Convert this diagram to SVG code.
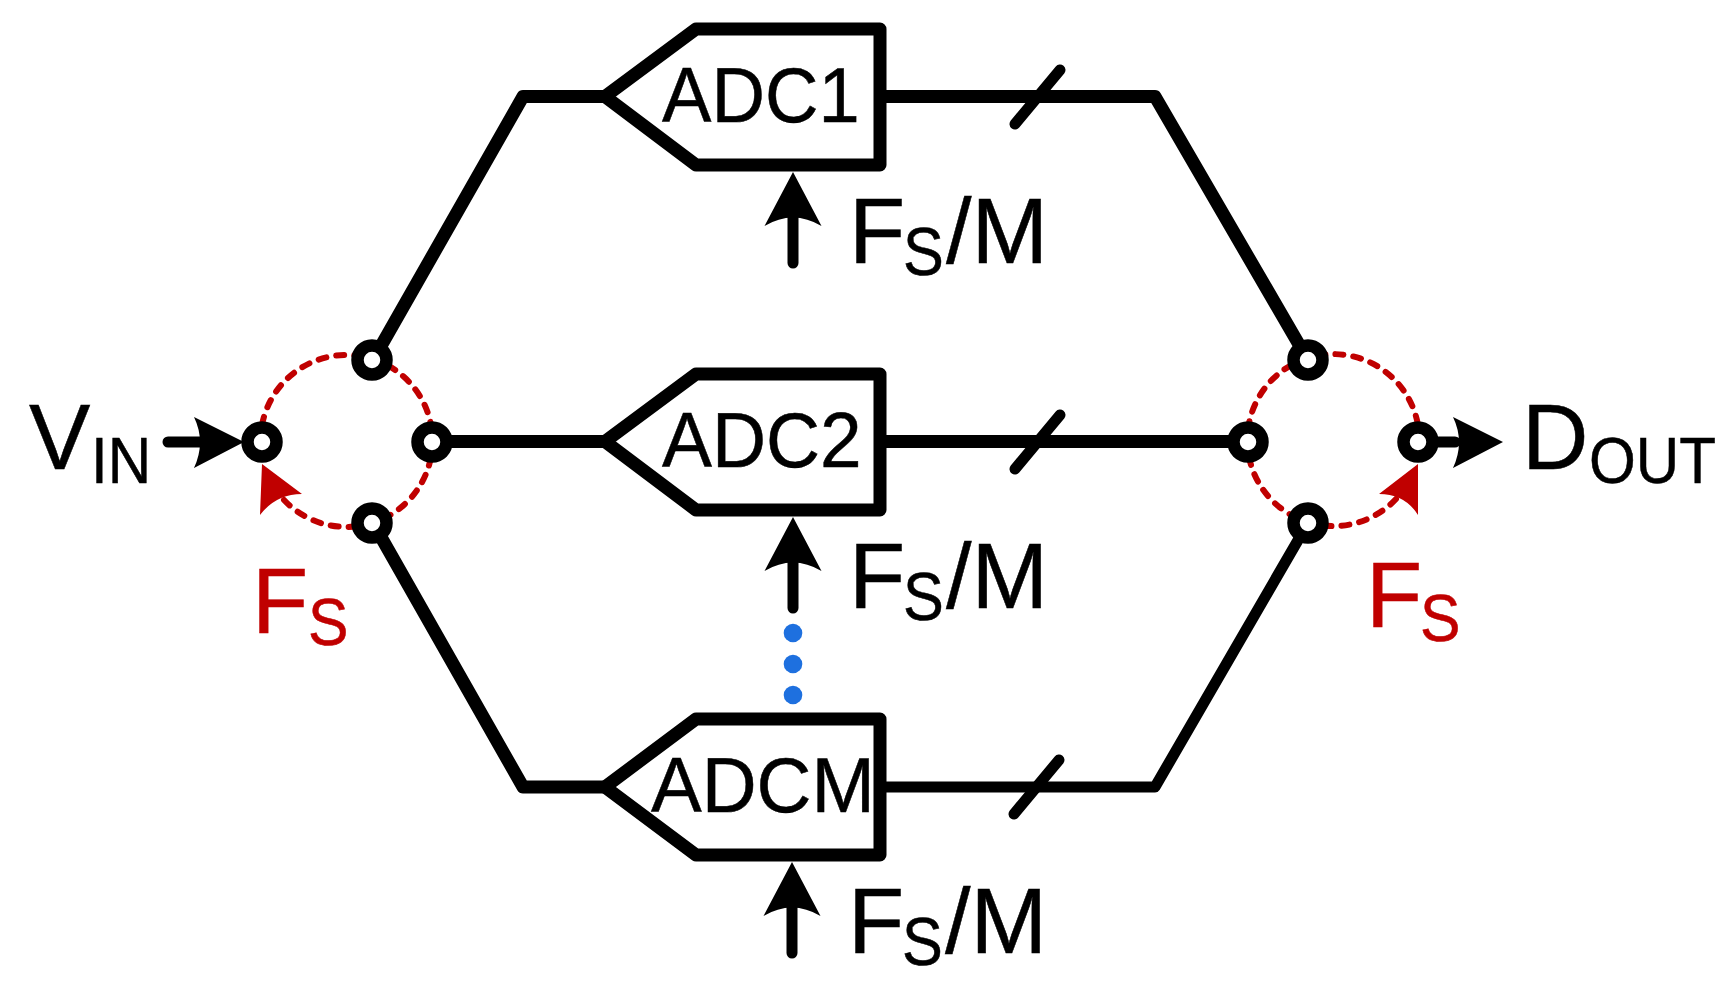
<svg xmlns="http://www.w3.org/2000/svg" width="1735" height="990" viewBox="0 0 1735 990">
<style>
text{font-family:"Liberation Sans",Arial,sans-serif;fill:#000;stroke:#000;stroke-width:.5}
.w{fill:none;stroke:#000;stroke-width:13;stroke-linejoin:round;stroke-linecap:round}
.t{stroke-width:11}
.box{fill:#fff;stroke:#000;stroke-width:13;stroke-linejoin:round}
.n{fill:#fff;stroke:#000;stroke-width:12.5}
.d{fill:none;stroke:#C00000;stroke-width:6;stroke-dasharray:8 10;stroke-linecap:round}
.r{fill:#C00000}
text.red{fill:#C00000;stroke:#C00000}
.lab{font-size:78px}.big{font-size:92px}.sub{font-size:68px}
.dot{fill:#1E70DF}
</style>
<defs>
<path id="up" d="M0 0L28.500 54Q0 37 -28.500 54Z"/>
<path id="rt" d="M0 0L-50 -25Q-38 0 -50 26Z"/>
</defs>
<rect width="1735" height="990" fill="#fff"/>
<g id="connectors">
<path class="w" d="M373 360L523 96.500H605"/>
<path class="w" d="M432 441.500H605"/>
<path class="w" d="M373 523L523 787H605"/>
<path class="w" d="M880 96.500H1155L1308 360"/>
<path class="w" d="M880 441.500H1248"/>
<path class="w t" d="M880 787H1155L1308 523"/>
<path class="w t" d="M1015 124L1060 70"/>
<path class="w t" d="M1015 469L1060 415"/>
<path class="w t" d="M1014 814L1059 760"/>
<path class="w t" d="M793 215V263"/>
<path class="w t" d="M793 560V608"/>
<path class="w t" d="M792 905V953"/>
<path class="w t" d="M168 442H205"/>
<path class="w t" d="M1418 442H1455"/>
<use href="#up" x="793" y="172"/>
<use href="#up" x="793" y="517"/>
<use href="#up" x="792" y="862"/>
<use href="#rt" x="244" y="442"/>
<use href="#rt" x="1503" y="442"/>
<path class="d" d="M284 500A86 86 0 1 0 262 425"/>
<path class="d" d="M1396 499A86 86 0 1 1 1418 425"/>
<path class="r" d="M262 464L302 494Q276 494 260 515Z"/>
<path class="r" d="M1418 464L1379 494Q1405 494 1418 515Z"/>
</g>
<g id="adc1"><path class="box" d="M605 96.500L696 29H880V165H696Z"/><text class="lab" transform="translate(662 122) scale(.95 1)">ADC1</text></g>
<g id="adc2"><path class="box" d="M605 441.500L696 374H880V510H696Z"/><text class="lab" transform="translate(662 467) scale(.96 1)">ADC2</text></g>
<g id="adcm"><path class="box" d="M605 787L696 719H880V855H696Z"/><text class="lab" transform="translate(651 812) scale(.975 1)">ADCM</text></g>
<g id="clk1"><text class="big" x="849" y="263">F</text><text class="sub" transform="translate(903 275) scale(.9 1)">S</text><text class="big" x="946" y="263">/M</text></g>
<g id="clk2"><text class="big" x="849" y="608">F</text><text class="sub" transform="translate(903 620) scale(.9 1)">S</text><text class="big" x="946" y="608">/M</text></g>
<g id="clkm"><text class="big" x="848" y="953">F</text><text class="sub" transform="translate(902 965) scale(.9 1)">S</text><text class="big" x="945" y="953">/M</text></g>
<g id="dots"><circle class="dot" cx="793" cy="633" r="9.300"/><circle class="dot" cx="793" cy="664" r="9.300"/><circle class="dot" cx="793" cy="695" r="9.300"/></g>
<g id="sw-in">
<circle class="n" cx="262" cy="442" r="14.500"/><circle class="n" cx="432" cy="442" r="14.500"/><circle class="n" cx="372" cy="360" r="14.500"/><circle class="n" cx="372" cy="523" r="14.500"/>
</g>
<g id="sw-out">
<circle class="n" cx="1308" cy="360" r="14.500"/><circle class="n" cx="1248" cy="442" r="14.500"/><circle class="n" cx="1418" cy="442" r="14.500"/><circle class="n" cx="1308" cy="523" r="14.500"/>
</g>
<g id="vin"><text class="big" x="29" y="469">V</text><text font-size="64" transform="translate(91 483) scale(.94 1)">IN</text></g>
<g id="dout"><text class="big" x="1522" y="469">D</text><text font-size="64" transform="translate(1589 483) scale(.94 1)">OUT</text></g>
<g id="fs-in"><text class="big red" x="252" y="633">F</text><text class="red" font-size="66" transform="translate(308 645) scale(.92 1)">S</text></g>
<g id="fs-out"><text class="big red" x="1366" y="627">F</text><text class="red" font-size="66" transform="translate(1420 641) scale(.92 1)">S</text></g>
</svg>
